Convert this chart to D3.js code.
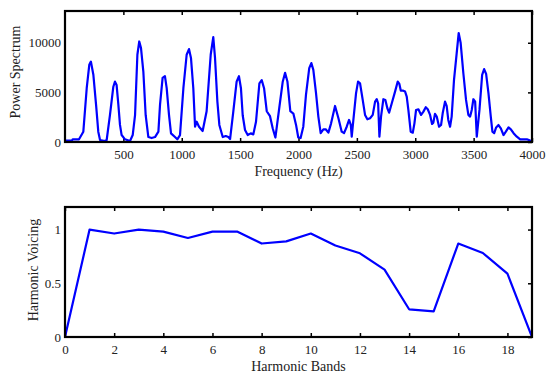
<!DOCTYPE html>
<html><head><meta charset="utf-8">
<script src="https://cdn.jsdelivr.net/npm/d3@7"></script>
<style>body{margin:0;background:#fff}svg{display:block}text{font-family:"Liberation Serif","Times New Roman",serif;fill:#222}</style>
</head><body><svg id="c" width="548" height="374"></svg>
<script>
const freqHz = [0,60,66,120,157,186,208,222,243,266,285,300,342,357,385,414,428,442,457,471,485,514,557,580,600,620,636,651,671,691,714,742,771,800,814,836,856,871,891,908,942,962,985,1014,1042,1062,1079,1099,1114,1128,1148,1179,1213,1248,1270,1285,1305,1322,1351,1377,1399,1414,1442,1470,1490,1507,1522,1542,1565,1591,1613,1636,1665,1685,1705,1728,1756,1779,1802,1836,1865,1885,1905,1930,1956,1979,1998,2018,2041,2064,2092,2110,2127,2150,2170,2190,2213,2233,2256,2279,2313,2342,2370,2390,2413,2433,2448,2456,2470,2493,2510,2527,2550,2570,2590,2613,2636,2656,2670,2682,2693,2707,2727,2744,2761,2776,2799,2827,2850,2864,2876,2893,2913,2927,2941,2961,2979,2993,3007,3027,3050,3070,3090,3107,3127,3144,3155,3169,3184,3204,3221,3235,3255,3269,3283,3298,3312,3332,3355,3372,3389,3412,3435,3455,3470,3484,3498,3513,3527,3550,3573,3590,3607,3627,3647,3661,3676,3693,3713,3733,3756,3776,3799,3819,3842,3870,3899,3956,3985,4000];
const powerSpec = [150,150,270,270,1040,5420,7780,8100,6770,3770,1040,200,100,200,2700,5570,6080,5740,3770,1720,700,270,100,700,2700,8790,10130,9460,7100,2700,500,400,500,1040,3770,6460,6630,5420,2700,870,500,270,700,5420,8790,9360,8470,5420,1540,2040,1540,1110,3100,8790,10570,8470,4100,1720,500,600,500,300,3100,6080,6630,5420,2700,1210,700,870,770,2040,5910,6240,5420,3100,2600,1380,450,3500,6080,6970,6100,3100,2870,1720,450,400,1540,4740,7440,7950,7270,4920,2560,890,1280,1280,940,1880,3630,2390,1040,890,1540,2220,1720,540,2220,4920,6090,5920,4240,2730,2290,2390,2730,4070,4310,3900,540,2560,4310,4240,3400,2960,3900,5080,6090,5850,5180,5180,5080,4580,3230,1040,940,1880,3230,3300,2730,3060,3500,3300,2730,1820,1950,2830,2560,1540,1710,2890,4070,3630,2220,1540,2560,6260,8950,10980,9970,6930,4240,2730,2560,3230,4310,4070,540,3230,6760,7340,6860,4920,2560,1040,890,1470,1710,1380,700,1040,1470,1280,890,540,270,270,140,100];
const freqTicks = [500,1000,1500,2000,2500,3000,3500,4000];
const powerTicks = [0,5000,10000];
const bands = [0,1,2,3,4,5,6,7,8,9,10,11,12,13,14,15,16,17,18,19];
const voicing = [0,1.0,0.963,1.0,0.981,0.922,0.981,0.981,0.87,0.89,0.963,0.851,0.779,0.627,0.258,0.239,0.87,0.782,0.59,0];
const bandTicks = [0,2,4,6,8,10,12,14,16,18];
const voicingTicks = [0,0.5,1];

const svg = d3.select('#c');
const L = 65, R = 532;

function panel(top, bottom, xDom, yDom, xs, ys, xTicks, yTicks, yFmt, xLab, yLab, yLabX, yLabY, xLabY) {
  const x = d3.scaleLinear().domain(xDom).range([L, R]);
  const y = d3.scaleLinear().domain(yDom).range([bottom, top]);
  const g = svg.append('g');
  const tl = 4;
  g.append('g').attr('transform', `translate(0,${bottom})`)
    .call(d3.axisBottom(x).tickValues(xTicks).tickSize(-tl).tickPadding(8).tickFormat(d3.format('d')))
    .call(a => { a.select('.domain').remove(); a.selectAll('line').attr('stroke', '#000').attr('stroke-width', 1.5);
      a.selectAll('text').attr('font-size', 13).attr('fill', '#222'); });
  g.append('g').attr('transform', `translate(0,${top})`)
    .call(d3.axisTop(x).tickValues(xTicks).tickSize(-tl).tickFormat(''))
    .call(a => { a.select('.domain').remove(); a.selectAll('line').attr('stroke', '#000').attr('stroke-width', 1.5); });
  g.append('g').attr('transform', `translate(${R},0)`)
    .call(d3.axisRight(y).tickValues(yTicks).tickSize(-tl).tickFormat(''))
    .call(a => { a.select('.domain').remove(); a.selectAll('line').attr('stroke', '#000').attr('stroke-width', 1.5); });
  g.append('g').attr('transform', `translate(${L},0)`)
    .call(d3.axisLeft(y).tickValues(yTicks).tickSize(0).tickPadding(4).tickFormat(yFmt))
    .call(a => { a.select('.domain').remove();
      a.selectAll('text').attr('font-size', 13).attr('fill', '#222'); });
  const line = d3.line().x((d, i) => x(xs[i])).y((d, i) => y(ys[i]));
  const clipId = 'clip' + top;
  svg.append('clipPath').attr('id', clipId).append('rect').attr('x', L).attr('y', top).attr('width', R - L).attr('height', bottom - top);
  g.append('path').datum(ys).attr('d', line).attr('fill', 'none').attr('stroke', '#0000ff')
    .attr('stroke-width', 2.2).attr('stroke-linejoin', 'round').attr('clip-path', `url(#${clipId})`);
  g.append('rect').attr('x', L).attr('y', top).attr('width', R - L).attr('height', bottom - top)
    .attr('fill', 'none').attr('stroke', '#000').attr('stroke-width', 2.2);
  g.append('text').attr('x', (L + R) / 2).attr('y', xLabY).attr('text-anchor', 'middle').attr('font-size', 14).text(xLab);
  g.append('text').attr('transform', `translate(${yLabX},${yLabY}) rotate(-90)`).attr('text-anchor', 'middle').attr('font-size', 14).text(yLab);
}

panel(11, 142, [0, 4000], [0, 13200], freqHz, powerSpec, freqTicks, powerTicks, d3.format('d'),
  'Frequency (Hz)', 'Power Spectrum', 20, 72, 176);
panel(207, 337, [0, 19], [0, 1.21], bands, voicing, bandTicks, voicingTicks, d => d === 0 ? '0' : String(d),
  'Harmonic Bands', 'Harmonic Voicing', 38, 270, 371);
</script></body></html>
